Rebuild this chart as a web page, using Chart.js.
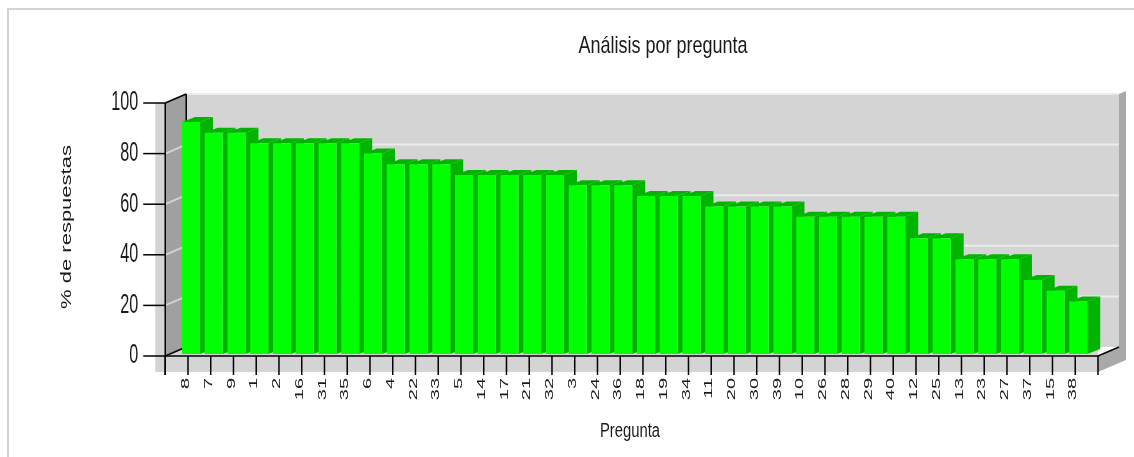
<!DOCTYPE html>
<html lang="es">
<head>
<meta charset="utf-8">
<title>Análisis por pregunta</title>
<script src="https://cdn.jsdelivr.net/npm/chart.js@4.4.1/dist/chart.umd.min.js"></script>
<style>
    html, body { margin: 0; padding: 0; background: #ffffff; }
    #wrap { position: relative; width: 1134px; height: 457px; }
</style>
</head>
<body>
<div id="wrap"><canvas id="grafico" width="1134" height="457"></canvas></div>
<script>
/* ------------------------------------------------------------
   DATOS
------------------------------------------------------------ */
const PREGUNTAS = ["8", "7", "9", "1", "2", "16", "31", "35", "6", "4",
                   "22", "33", "5", "14", "17", "21", "32", "3", "24", "36",
                   "18", "19", "34", "11", "20", "30", "39", "10", "26", "28",
                   "29", "40", "12", "25", "13", "23", "27", "37", "15", "38"];
const PORCENTAJES = [91.7, 87.5, 87.5, 83.3, 83.3, 83.3, 83.3, 83.3, 79.2, 75,
                     75, 75, 70.8, 70.8, 70.8, 70.8, 70.8, 66.7, 66.7, 66.7,
                     62.5, 62.5, 62.5, 58.3, 58.3, 58.3, 58.3, 54.2, 54.2, 54.2,
                     54.2, 54.2, 45.8, 45.8, 37.5, 37.5, 37.5, 29.2, 25, 20.8];
const Y_TICKS = [0, 20, 40, 60, 80, 100];

const TITULO = "Análisis por pregunta";
const TITULO_Y = "% de respuestas";
const TITULO_X = "Pregunta";

/* ------------------------------------------------------------
   TEMA
------------------------------------------------------------ */
const COLORES = {
    frente: "#00ff00",
    lateral: "#00b400",
    pared: "#d4d4d4",
    paredIzq: "#a0a0a0",
    lado: "#a9a9a9",
    rejilla: "#ebebeb",
    rejillaIzq: "#d2d2d2",
    marco: "#d3d3d3",
    linea: "#000000",
    texto: "#1a1a1a"
};
const FUENTE = '"Liberation Sans", Arial, sans-serif';
const PROF = { dx: 21, dy: 9 };        // fondo de las paredes
const PROF_BARRA = { dx: 13, dy: 5 };  // fondo de cada barra
const DESPLAZ = { x: 3, y: 2 };        // plano de ejes respecto al de barras

/* ------------------------------------------------------------
   UTILIDADES DE DIBUJO
------------------------------------------------------------ */
function poly(ctx, pts, fill) {
    ctx.beginPath();
    pts.forEach(([x, y], k) => k ? ctx.lineTo(x, y) : ctx.moveTo(x, y));
    ctx.closePath();
    ctx.fillStyle = fill;
    ctx.fill();
}

function linea(ctx, x1, y1, x2, y2, color = COLORES.linea, ancho = 1.5) {
    ctx.beginPath();
    ctx.moveTo(x1, y1);
    ctx.lineTo(x2, y2);
    ctx.strokeStyle = color;
    ctx.lineWidth = ancho;
    ctx.stroke();
}

// texto comprimido en horizontal, como en la imagen original
function texto(ctx, str, x, y, o) {
    ctx.save();
    ctx.translate(x, y);
    ctx.scale(o.sx, 1);
    ctx.rotate(o.rot || 0);
    ctx.font = o.font;
    ctx.fillStyle = COLORES.texto;
    ctx.textAlign = o.align || "center";
    ctx.textBaseline = o.base || "middle";
    ctx.fillText(str, 0, 0);
    ctx.restore();
}

function planoFrontal(chart) {
    const xs = chart.scales.x, ys = chart.scales.y;
    const paso = xs.getPixelForValue(1) - xs.getPixelForValue(0);
    const tickX = i => xs.getPixelForValue(i) - DESPLAZ.x;
    const yv = v => ys.getPixelForValue(v) + DESPLAZ.y;
    return {
        paso, tickX, yv,
        left: tickX(0) - paso,
        right: tickX(PREGUNTAS.length - 1) + paso,
        top: yv(ys.max),
        bottom: yv(ys.min)
    };
}

/* ------------------------------------------------------------
   PLUGIN 3D
------------------------------------------------------------ */
const grafico3D = {
    id: "grafico3D",

    beforeDatasetsDraw(chart) {
        const ctx = chart.ctx;
        const f = planoFrontal(chart);
        const { dx, dy } = PROF;

        ctx.save();
        // marco exterior
        ctx.fillStyle = COLORES.marco;
        ctx.fillRect(7, 8, 1127, 2);
        ctx.fillRect(7, 8, 2, 449);

        // suelo / sombra frontal y pared del fondo
        ctx.fillStyle = COLORES.pared;
        ctx.fillRect(f.left - 10, f.top, f.right - f.left + 10, f.bottom + 16 - f.top);
        ctx.fillRect(f.left + dx, f.top - dy, f.right - f.left, f.bottom - f.top);

        // canto derecho
        poly(ctx, [[f.right, f.bottom + 16], [f.right, f.bottom], [f.right + dx, f.bottom - dy],
                   [f.right + dx, f.top - dy], [f.right + dx + 7, f.top - dy - 3],
                   [f.right + dx + 7, f.bottom + 4]], COLORES.lado);

        // rejilla de la pared del fondo
        Y_TICKS.slice(1).forEach(v => {
            const y = f.yv(v) - dy;
            linea(ctx, f.left + dx, y, f.right + dx, y, COLORES.rejilla, 2);
        });

        // pared izquierda
        poly(ctx, [[f.left, f.top], [f.left + dx, f.top - dy],
                   [f.left + dx, f.bottom - dy], [f.left, f.bottom]], COLORES.paredIzq);
        Y_TICKS.slice(1, -1).forEach(v => {
            const y = f.yv(v);
            linea(ctx, f.left, y, f.left + dx, y - dy, COLORES.rejillaIzq, 2);
        });
        linea(ctx, f.left + dx, f.top - dy, f.left + dx, f.bottom - dy);
        linea(ctx, f.left, f.top, f.left + dx, f.top - dy);
        linea(ctx, f.left, f.bottom, f.left + dx, f.bottom - dy);

        // caras superior y lateral de cada barra
        const meta = chart.getDatasetMeta(0);
        const bd = PROF_BARRA;
        meta.data.forEach(el => {
            const { x, y, base, width } = el.getProps(["x", "y", "base", "width"], true);
            const L = x - width / 2, R = x + width / 2;
            poly(ctx, [[R, y], [R + bd.dx, y - bd.dy], [R + bd.dx, base - bd.dy], [R, base]], COLORES.lateral);
            poly(ctx, [[L, y], [R, y], [R + bd.dx, y - bd.dy], [L + bd.dx, y - bd.dy]], COLORES.lateral);
        });
        ctx.restore();
    },

    afterDatasetsDraw(chart) {
        const ctx = chart.ctx;
        const f = planoFrontal(chart);
        const { dx, dy } = PROF;

        ctx.save();
        // eje vertical y marcas
        linea(ctx, f.left, f.top, f.left, f.bottom + 19);
        Y_TICKS.forEach(v => linea(ctx, f.left - 22, f.yv(v), f.left, f.yv(v)));

        // eje horizontal y marcas
        linea(ctx, f.left, f.bottom, f.right, f.bottom);
        linea(ctx, f.right, f.bottom, f.right + dx, f.bottom - dy);
        const marcas = [f.left, ...PREGUNTAS.map((_, i) => f.tickX(i)), f.right];
        marcas.forEach(x => linea(ctx, x, f.bottom, x, f.bottom + 19));

        // etiquetas
        Y_TICKS.forEach(v => texto(ctx, String(v), f.left - 27, f.yv(v),
            { sx: 0.6, font: "27px " + FUENTE, align: "right" }));
        PREGUNTAS.forEach((p, i) => texto(ctx, p, f.tickX(i) - 2, f.bottom + 22,
            { sx: 0.58, rot: -Math.PI / 2, font: "20px " + FUENTE, align: "right" }));

        // títulos
        texto(ctx, TITULO, 663, 46, { sx: 0.75, font: "24px " + FUENTE });
        texto(ctx, TITULO_Y, 67, 227, { sx: 0.66, rot: -Math.PI / 2, font: "22px " + FUENTE });
        texto(ctx, TITULO_X, 630, 431, { sx: 0.74, font: "20px " + FUENTE });
        ctx.restore();
    }
};

/* ------------------------------------------------------------
   GRÁFICO
------------------------------------------------------------ */
new Chart(document.getElementById("grafico"), {
    type: "bar",
    data: {
        labels: PREGUNTAS,
        datasets: [{
            label: TITULO_Y,
            data: PORCENTAJES,
            backgroundColor: COLORES.frente,
            borderWidth: 0,
            barPercentage: 0.79,
            categoryPercentage: 1
        }]
    },
    options: {
        responsive: false,
        animation: false,
        devicePixelRatio: 1,
        layout: { padding: { left: 179.6, right: 44.4, top: 101, bottom: 103 } },
        plugins: {
            legend: { display: false },
            title: { display: false },
            tooltip: { enabled: false }
        },
        scales: {
            x: { display: false, offset: true },
            y: { display: false, min: 0, max: 100 }
        }
    },
    plugins: [grafico3D]
});
</script>
</body>
</html>
